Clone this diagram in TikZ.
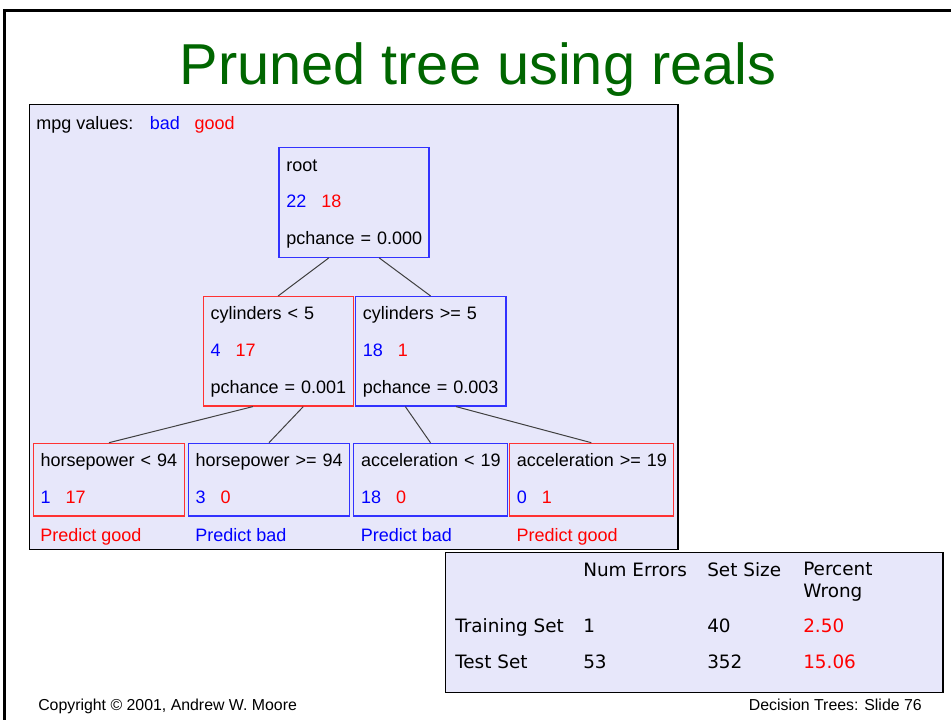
\documentclass[tikz,border=0pt]{standalone}
\usepackage{fontspec}
\setmainfont{Liberation Sans}
\newfontfamily\tabfont{DejaVu Sans}
\usetikzlibrary{positioning,calc}
\definecolor{bad}{RGB}{0,0,255}
\definecolor{good}{RGB}{255,0,0}
\definecolor{badline}{RGB}{50,50,255}
\definecolor{goodline}{RGB}{255,50,50}
\definecolor{panelbg}{RGB}{231,231,250}
\definecolor{titlegreen}{RGB}{0,102,0}
\tikzset{
  tbox/.style={draw, line width=0.9pt, align=left, anchor=north west,
               font=\fontsize{13.5}{27.5}\selectfont, inner xsep=5.6pt, inner ysep=0pt,
               execute at begin node={\rule{0pt}{17.55pt}},
               execute at end node={\rule[-9.5pt]{0pt}{9.5pt}}},
  badbox/.style={tbox, draw=badline},
  goodbox/.style={tbox, draw=goodline},
  txt/.style={anchor=base west, inner sep=0pt, font=\fontsize{13.5}{16}\selectfont},
  tab/.style={anchor=base west, inner sep=0pt, align=left,
              font=\tabfont\fontsize{13.8}{16.3}\selectfont},
  foot/.style={inner sep=0pt, font=\fontsize{11.9}{14}\selectfont},
  edge/.style={draw=black!75, line width=0.75pt},
}

\begin{document}
\begin{tikzpicture}[x=0.75pt, y=-0.75pt]
  \useasboundingbox (0,0) rectangle (951,720);
  % slide frame and title
  \draw[line width=2.25pt, line join=miter] (951,10.5) -| (4,720);
  \node[anchor=base, inner sep=0pt, text=titlegreen, font=\fontsize{43.3}{50}\selectfont]
    (title) at (478,85) {Pruned tree using reals};

  % tree panel
  \draw[fill=panelbg, line width=1.1pt] (29.3,104.3) rectangle (678,549.5);
  \node[txt] (legend) at (36,129.3)
    {mpg values:\hspace{12.5pt}{\color{bad}bad}\hspace{11pt}{\color{good}good}};

  \node[badbox, text width=101.3pt] (root) at (278.4,147.3)
    {root\\{\color{bad}22}\hspace{11.25pt}{\color{good}18}\\pchance~=~0.000};
  \node[goodbox, text width=101.3pt] (cl) at (202.5,296)
    {cylinders~<~5\\{\color{bad}4}\hspace{11.25pt}{\color{good}17}\\pchance~=~0.001};
  \node[badbox, text width=101.8pt] (cr) at (354.7,296)
    {cylinders~>=~5\\{\color{bad}18}\hspace{11.25pt}{\color{good}1}\\pchance~=~0.003};

  \node[goodbox, text width=102.5pt] (hl) at (32.6,442.7)
    {horsepower~<~94\\{\color{bad}1}\hspace{11.25pt}{\color{good}17}};
  \node[badbox, text width=110pt] (hr) at (187.6,442.7)
    {horsepower~>=~94\\{\color{bad}3}\hspace{11.25pt}{\color{good}0}};
  \node[badbox, text width=104.1pt] (al) at (353,442.7)
    {acceleration~<~19\\{\color{bad}18}\hspace{11.25pt}{\color{good}0}};
  \node[goodbox, text width=111.65pt] (ar) at (508.8,442.7)
    {acceleration~>=~19\\{\color{bad}0}\hspace{11.25pt}{\color{good}1}};

  \foreach \p/\c/\f in {root/cl/1, root/cr/2, cl/hl/1, cl/hr/2, cr/al/1, cr/ar/2}
    \draw[edge] ($(\p.south west)!\f/3!(\p.south east)$) -- (\c.north);

  \node[txt, text=good] (phl) at ([shift={(7.5,25)}]hl.south west) {Predict good};
  \node[txt, text=bad] (phr) at ([shift={(7.5,25)}]hr.south west) {Predict bad};
  \node[txt, text=bad] (pal) at ([shift={(7.5,25)}]al.south west) {Predict bad};
  \node[txt, text=good] (par) at ([shift={(7.5,25)}]ar.south west) {Predict good};

  % error table
  \draw[fill=panelbg, line width=1.1pt] (445.3,552.3) rectangle (943,692.7);
  \node[tab] (hne) at (583,576) {Num Errors};
  \node[tab] (hss) at (707,576) {Set Size};
  \node[tab] (hpw) at (803,597.7) {Percent\\Wrong};
  \node[tab] (rtr) at (455,632.7) {Training Set};
  \node[tab] (tre) at (583,632.7) {1};
  \node[tab] (trs) at (707,632.7) {40};
  \node[tab, text=good] (trp) at (803,632.7) {2.50};
  \node[tab] (rte) at (455,668.3) {Test Set};
  \node[tab] (tee) at (583,668.3) {53};
  \node[tab] (tes) at (707,668.3) {352};
  \node[tab, text=good] (tep) at (803,668.3) {15.06};

  % footer
  \node[foot, anchor=base west] (copy) at (38,710.7) {Copyright © 2001, Andrew W. Moore};
  \node[foot, anchor=base east] (slide) at (922,710.7) {Decision Trees: Slide 76};
\end{tikzpicture}
\end{document}
